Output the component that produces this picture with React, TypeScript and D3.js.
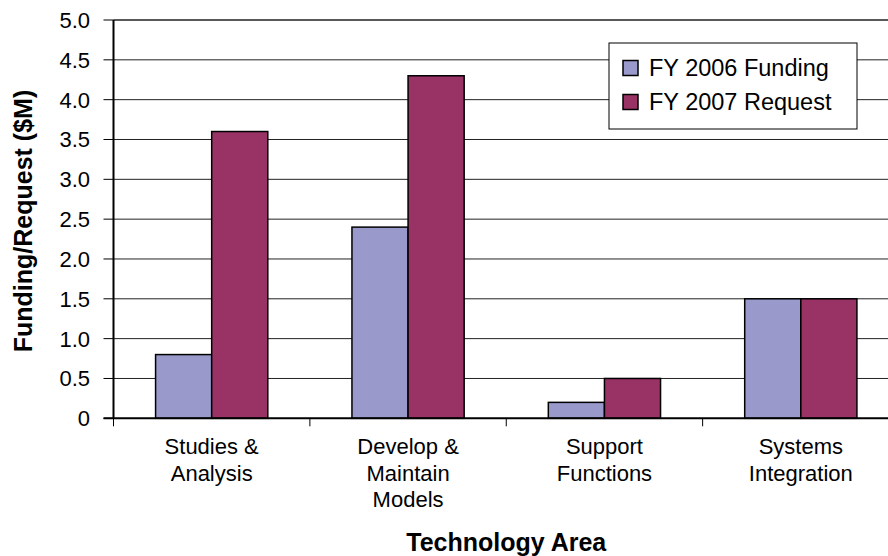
import React from 'react';
import * as d3 from 'd3';

const categories = ['Studies & Analysis', 'Develop & Maintain Models', 'Support Functions', 'Systems Integration'];
const categoryLines = [['Studies &', 'Analysis'], ['Develop &', 'Maintain', 'Models'], ['Support', 'Functions'], ['Systems', 'Integration']];
const seriesNames = ['FY 2006 Funding', 'FY 2007 Request'];
const fy2006 = [0.8, 2.4, 0.2, 1.5];
const fy2007 = [3.6, 4.3, 0.5, 1.5];
const yTicks = [0, 0.5, 1.0, 1.5, 2.0, 2.5, 3.0, 3.5, 4.0, 4.5, 5.0];
const colors = ['#9999cc', '#993366'];

const width = 888;
const height = 556;
const font = 'Arial, "Liberation Sans", sans-serif';

const App: React.FC = () => {
  const margin = { top: 20, left: 113.5, right: 899, bottom: 418.3 };

  const x = d3.scaleBand<string>()
    .domain(categories)
    .range([margin.left, margin.right]);

  // two bars per group, Excel-like 150% gap
  const xs = d3.scaleBand<number>()
    .domain([0, 1])
    .range([0, x.bandwidth()])
    .paddingInner(0)
    .paddingOuter(0.75);

  const y = d3.scaleLinear()
    .domain([0, 5])
    .range([margin.bottom, margin.top]);

  const series = [fy2006, fy2007];

  return (
    <svg width={width} height={height} style={{ position: 'absolute', left: 0, top: 0, background: '#fff' }}
      fontFamily={font}>
      {/* gridlines */}
      {yTicks.filter(t => t > 0).map(t => (
        <line key={t} x1={margin.left} x2={width} y1={y(t)} y2={y(t)} stroke="#222" strokeWidth={t === 5 ? 1.5 : 1} />
      ))}

      {/* bars */}
      {series.map((vals, si) => (
        <g key={si}>
          {vals.map((v, i) => (
            <rect key={i}
              x={x(categories[i])! + xs(si)!}
              y={y(v)}
              width={xs.bandwidth()}
              height={y(0) - y(v)}
              fill={colors[si]}
              stroke="#000"
              strokeWidth={1.5} />
          ))}
        </g>
      ))}

      {/* axes */}
      <line x1={margin.left} x2={margin.left} y1={margin.top} y2={margin.bottom} stroke="#000" strokeWidth={2} />
      <line x1={margin.left - 10} x2={width} y1={margin.bottom} y2={margin.bottom} stroke="#000" strokeWidth={2} />
      {yTicks.map(t => (
        <g key={t}>
          <line x1={margin.left - 10} x2={margin.left} y1={y(t)} y2={y(t)} stroke="#000" strokeWidth={1} />
          <text x={90} y={y(t)} dy="0.36em" textAnchor="end" fontSize={22}>{t === 0 ? '0' : t.toFixed(1)}</text>
        </g>
      ))}
      {categories.map(c => (
        <line key={c} x1={x(c)!} x2={x(c)!} y1={margin.bottom} y2={margin.bottom + 8} stroke="#000" strokeWidth={1} />
      ))}
      {categories.map((c, i) => (
        <text key={c} x={x(c)! + x.bandwidth() / 2} textAnchor="middle" fontSize={22}>
          {categoryLines[i].map((l, j) => (
            <tspan key={j} x={x(c)! + x.bandwidth() / 2} y={454 + j * 26.7}>{l}</tspan>
          ))}
        </text>
      ))}

      {/* titles */}
      <text x={(margin.left + margin.right) / 2} y={551} textAnchor="middle" fontSize={25} fontWeight="bold">Technology Area</text>
      <text transform={`translate(32,${221}) rotate(-90)`} textAnchor="middle" fontSize={25} fontWeight="bold">Funding/Request ($M)</text>

      {/* legend */}
      <g>
        <rect x={609} y={43} width={248} height={86} fill="#fff" stroke="#000" strokeWidth={1} />
        {seriesNames.map((s, i) => (
          <g key={s} transform={`translate(623,${68 + i * 34})`}>
            <rect x={0} y={-7.5} width={15} height={15} fill={colors[i]} stroke="#000" strokeWidth={1.5} />
            <text x={26} y={0} dy="0.36em" fontSize={23.5}>{s}</text>
          </g>
        ))}
      </g>
    </svg>
  );
};

export default App;
